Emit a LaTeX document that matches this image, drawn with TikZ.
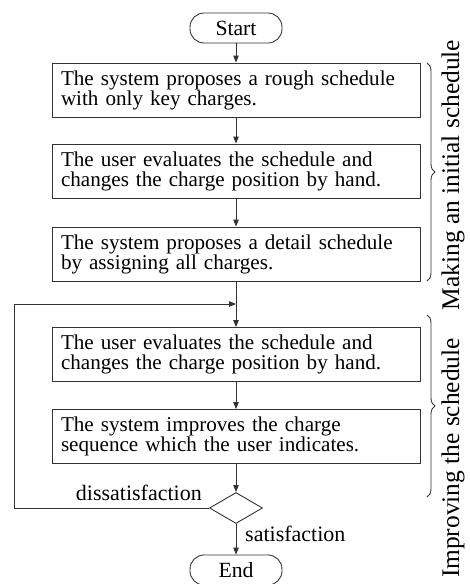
\documentclass[tikz,border=0pt]{standalone}
\usepackage{fontspec}
\setmainfont{Liberation Serif}
\usetikzlibrary{arrows.meta,shapes.geometric,decorations.pathreplacing}

\tikzset{
  line/.style={draw=black!80, line width=0.9pt},
  flow/.style={line, -{Triangle[length=7pt,width=5.5pt]}},
  procbox/.style={line, rectangle, minimum width=368pt, minimum height=54pt,
    text width=350pt, align=left, inner sep=0pt,
    font=\fontsize{21.1pt}{20pt}\selectfont},
  terminal/.style={line, rectangle, rounded corners=14pt, minimum width=92pt,
    minimum height=30pt, inner sep=0pt, font=\fontsize{21.7pt}{22pt}\selectfont},
  decision/.style={line, diamond, minimum width=53pt, minimum height=31pt,
    inner sep=0pt, aspect=1.7},
  lbl/.style={font=\fontsize{22pt}{22pt}\selectfont, inner sep=0pt},
  phase/.style={font=\fontsize{25.4pt}{26pt}\selectfont, inner sep=0pt, rotate=90},
  grp/.style={line, decorate, decoration={brace, amplitude=8pt}}
}

\begin{document}
\begin{tikzpicture}[x=1pt, y=-1pt]
  \useasboundingbox (0,0) rectangle (469,584);

  \node[terminal] (start) at (236,28) {Start};
  \node[procbox] (p1) at (236,90)
    {The system proposes a rough schedule\\with only key charges.};
  \node[procbox] (p2) at (236,171)
    {The user evaluates the schedule and\\changes the charge position by hand.};
  \node[procbox] (p3) at (236,254)
    {The system proposes a detail schedule\\by assigning all charges.};
  \node[procbox] (p4) at (236,354.5)
    {The user evaluates the schedule and\\changes the charge position by hand.};
  \node[procbox] (p5) at (236,436.5)
    {The system improves the charge\\sequence which the user indicates.};
  \node[decision] (dec) at (236,508) {};
  \node[terminal] (end) at (236,570) {End};

  % main flow
  \draw[flow] (start) -- (p1);
  \draw[flow] (p1) -- (p2);
  \draw[flow] (p2) -- (p3);
  \draw[flow] (p3) -- (p4);
  \draw[flow] (p4) -- (p5);
  \draw[flow] (p5) -- (dec.north);
  \draw[flow] (dec.south) -- (end);

  % feedback loop on dissatisfaction
  \coordinate (merge) at (236,304);
  \coordinate (cornerB) at (14,508);
  \coordinate (cornerT) at (14,304);
  \draw[flow] (dec.west) -- (cornerB) -- (cornerT) -- (merge);

  \node[lbl, anchor=base east] (dis) at (202,500) {dissatisfaction};
  \node[lbl, anchor=base west] (sat) at (245,541) {satisfaction};

  % phase braces
  \coordinate (b1t) at (427,63);
  \coordinate (b1b) at (427,281);
  \coordinate (b2t) at (427,315);
  \coordinate (b2b) at (427,497);
  \draw[grp] (b1t) -- (b1b);
  \draw[grp] (b2t) -- (b2b);
  \node[phase] (ph1) at (453,175) {Making an initial schedule};
  \node[phase] (ph2) at (453,458) {Improving the schedule};
\end{tikzpicture}
\end{document}
